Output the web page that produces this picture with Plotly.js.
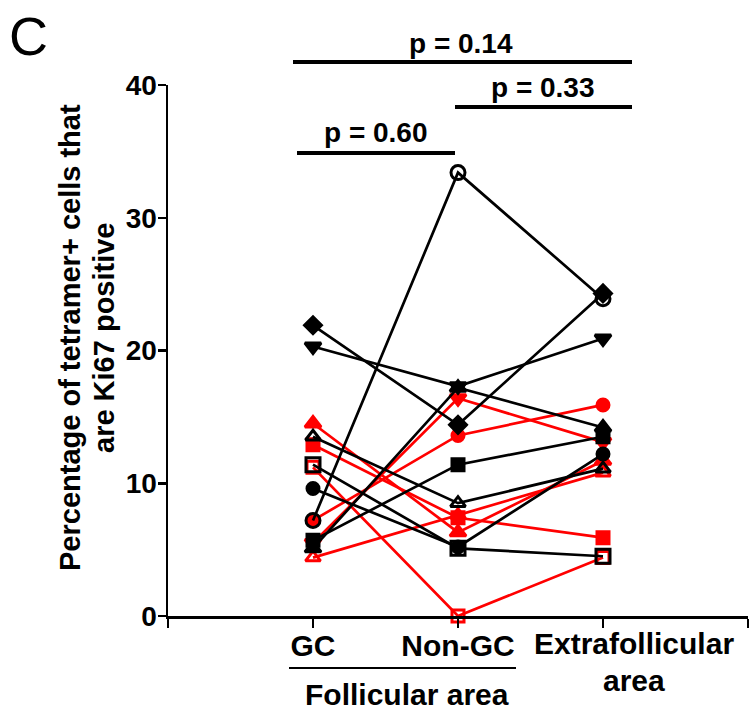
<!DOCTYPE html>
<html>
<head>
<meta charset="utf-8">
<script src="https://cdn.plot.ly/plotly-3.0.1.min.js"></script>
<style>html,body{margin:0;padding:0;background:#fff;}#chart{width:749px;height:715px;}</style>
</head>
<body>
<div id="chart"></div>
<script>
// Categories (positions 1,2,3 on the x axis)
const categories = ['GC', 'Non-GC', 'Extrafollicular area'];
const categoryPos = [1, 2, 3];
const tickLabels = ['', 'GC', 'Non-GC', '', ''];

// Black subjects (GC, Non-GC, Extrafollicular)
const blackDiamond      = [21.9, 14.4, 24.3];
const blackTriDown      = [20.3, 17.3, 20.9];
const blackOpenCircle   = [7.2, 33.4, 23.9];
const blackTriUp        = [5.1, 17.2, 14.2];
const blackSquare       = [5.7, 11.4, 13.5];
const blackOpenTriangle = [13.5, 8.5, 11.1];
const blackOpenSquare   = [11.4, 5.1, 4.5];
const blackCircle       = [9.6, 5.2, 12.2];

// Red subjects
const redTriUp        = [14.5, 6.3, 11.7];
const redSquare       = [12.9, 7.4, 5.9];
const redOpenSquare   = [11.2, 0, 4.4];
const redOpenTriangle = [4.4, 7.6, 10.8];
const redCircle       = [7.2, 13.6, 15.9];
const redTriDown      = [5.5, 16.4, 13.1];

const RED = '#ff0000', BLACK = '#000000';
const FONT = 'Liberation Sans, Arial, sans-serif';

function subj(y, color, symbol, size) {
  return {
    x: categoryPos, y: y, type: 'scatter', mode: 'lines+markers',
    cliponaxis: false, showlegend: false, hoverinfo: 'skip',
    line: {color: color, width: 2.7},
    marker: {color: color, symbol: symbol, size: size, line: {color: color, width: 3}}
  };
}

const data = [
  subj(redTriUp, RED, 'triangle-up', 14),
  subj(redSquare, RED, 'square', 12),
  subj(redOpenSquare, RED, 'square-open', 12),
  subj(redOpenTriangle, RED, 'triangle-up-open', 13),
  subj(redCircle, RED, 'circle', 12),
  subj(redTriDown, RED, 'triangle-down', 14),
  subj(blackDiamond, BLACK, 'diamond', 13),
  subj(blackTriDown, BLACK, 'triangle-down', 14),
  subj(blackOpenCircle, BLACK, 'circle-open', 14),
  subj(blackTriUp, BLACK, 'triangle-up', 14),
  subj(blackSquare, BLACK, 'square', 12),
  subj(blackOpenTriangle, BLACK, 'triangle-up-open', 13),
  subj(blackOpenSquare, BLACK, 'square-open', 14),
  subj(blackCircle, BLACK, 'circle', 12)
];

function px(x) { return (x - 168) / 580; }
function py(y) { return (616 - y) / 531; }

const lineStyle = {color: BLACK, width: 4};
const shapes = [
  {type: 'line', xref: 'paper', yref: 'paper', x0: px(293), x1: px(632), y0: py(62), y1: py(62), line: lineStyle},
  {type: 'line', xref: 'paper', yref: 'paper', x0: px(455), x1: px(632), y0: py(107), y1: py(107), line: lineStyle},
  {type: 'line', xref: 'paper', yref: 'paper', x0: px(297), x1: px(455), y0: py(153), y1: py(153), line: lineStyle},
  {type: 'line', xref: 'paper', yref: 'paper', x0: px(289), x1: px(516), y0: py(668), y1: py(668), line: {color: BLACK, width: 2}}
];

const bold = (s) => ({family: FONT, size: s, color: BLACK, weight: 'bold'});
function note(text, x, y, size, extra) {
  return Object.assign({text: text, xref: 'paper', yref: 'paper', x: px(x), y: py(y),
    xanchor: 'center', yanchor: 'middle', showarrow: false, font: bold(size)}, extra || {});
}
const annotations = [
  {text: 'C', xref: 'paper', yref: 'paper', x: px(28), y: py(36), xanchor: 'center', yanchor: 'middle',
   showarrow: false, font: {family: FONT, size: 54, color: BLACK}},
  note('<b>p = 0.14</b>', 461, 43, 28),
  note('<b>p = 0.33</b>', 543, 88, 28),
  note('<b>p = 0.60</b>', 376, 132, 28),
  note('<b>Extrafollicular</b>', 634, 643, 30),
  note('<b>area</b>', 634, 680, 30),
  note('<b>Follicular area</b>', 407, 694, 30),
  note('<b>Percentage of tetramer+ cells that</b>', 70, 338, 29, {textangle: -90}),
  note('<b>are Ki67 positive</b>', 104, 338, 29, {textangle: -90})
];

const layout = {
  width: 749, height: 715,
  margin: {l: 168, r: 1, t: 85, b: 99},
  paper_bgcolor: '#fff', plot_bgcolor: '#fff',
  font: {family: FONT, color: BLACK},
  xaxis: {
    range: [0, 4], tickvals: [0, 1, 2, 3, 4], ticktext: tickLabels,
    showgrid: false, zeroline: false, showline: true, linecolor: BLACK, linewidth: 2.5,
    ticks: 'outside', ticklen: 9, tickwidth: 2.5, tickcolor: BLACK,
    ticklabelstandoff: -8,
    tickfont: bold(30), fixedrange: true
  },
  yaxis: {
    range: [0, 40], tickvals: [0, 10, 20, 30, 40],
    showgrid: false, zeroline: false, showline: true, linecolor: BLACK, linewidth: 2.5,
    ticks: 'outside', ticklen: 8, tickwidth: 2.5, tickcolor: BLACK,
    ticklabelstandoff: -5,
    tickfont: bold(28), fixedrange: true
  },
  shapes: shapes,
  annotations: annotations
};

Plotly.newPlot('chart', data, layout, {displayModeBar: false, staticPlot: true});
</script>
</body>
</html>
